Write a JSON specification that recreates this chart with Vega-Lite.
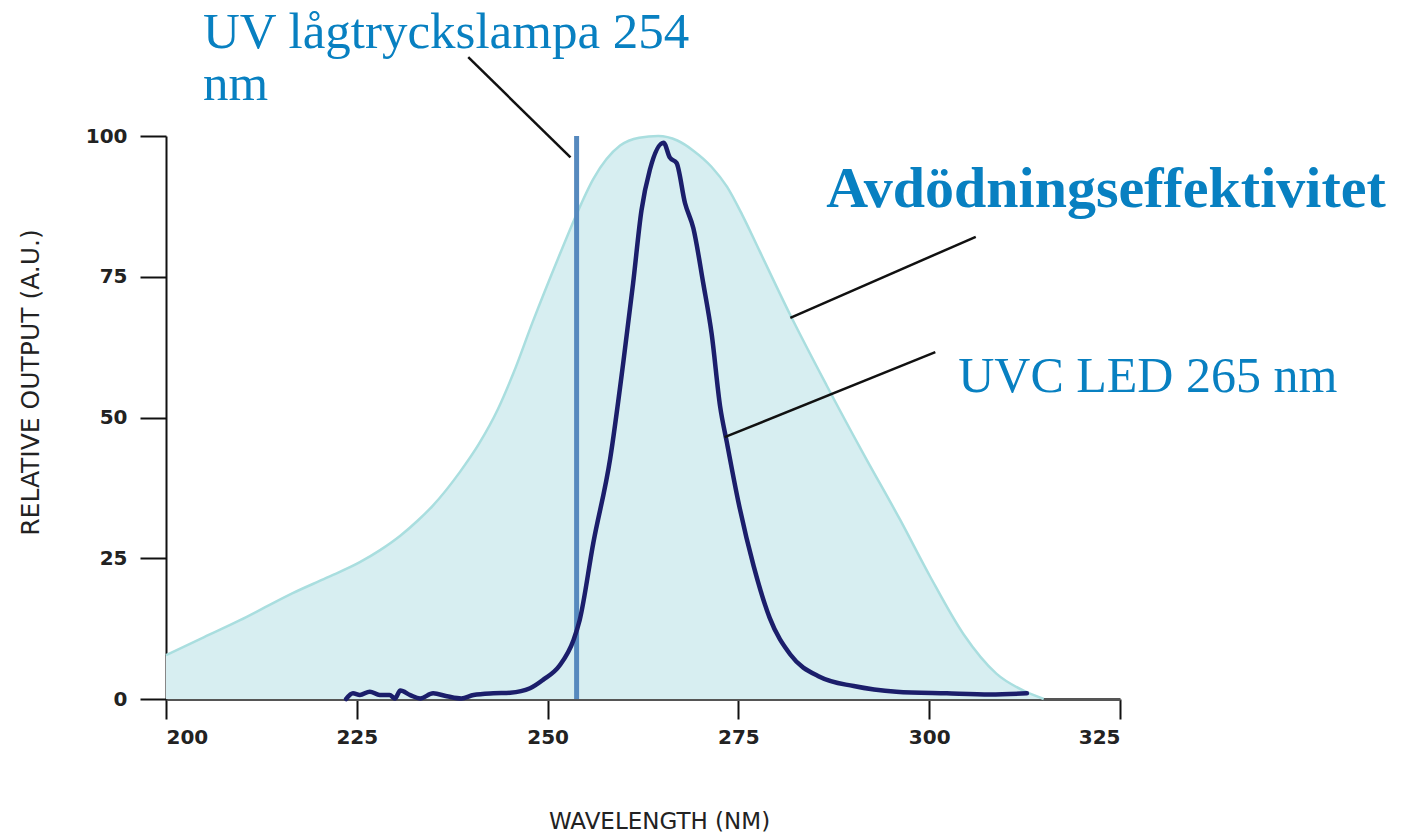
{
  "$schema": "https://vega.github.io/schema/vega-lite/v6.json",
  "width": 954,
  "height": 563,
  "autosize": {"type": "none"},
  "padding": {"left": 166, "top": 136, "right": 306, "bottom": 138},
  "background": "white",
  "config": {
    "view": {"stroke": null},
    "axis": {"grid": false, "zindex": 1}
  },
  "layer": [
    {
      "data": {"values": [
        {"nm": 200, "v": 7.8}, {"nm": 205, "v": 11.0}, {"nm": 209.7, "v": 14.0}, {"nm": 213, "v": 16.3},
        {"nm": 216.6, "v": 18.8}, {"nm": 221, "v": 21.5}, {"nm": 225.4, "v": 24.3}, {"nm": 228, "v": 26.4},
        {"nm": 230.7, "v": 29.0}, {"nm": 233, "v": 31.7}, {"nm": 235, "v": 34.4}, {"nm": 238.5, "v": 40.3},
        {"nm": 241, "v": 45.3}, {"nm": 243.5, "v": 51.5}, {"nm": 245.5, "v": 57.8}, {"nm": 248, "v": 66.8}, {"nm": 251.6, "v": 79.0},
        {"nm": 253.6, "v": 85.5}, {"nm": 256, "v": 92.4}, {"nm": 259.5, "v": 98.3}, {"nm": 262, "v": 99.7},
        {"nm": 264.5, "v": 100}, {"nm": 267, "v": 99.2}, {"nm": 269.1, "v": 97.4}, {"nm": 271.5, "v": 94.5},
        {"nm": 273.5, "v": 91.0}, {"nm": 275.5, "v": 86.0}, {"nm": 277.8, "v": 79.5}, {"nm": 281.8, "v": 68.2},
        {"nm": 286.6, "v": 55.6}, {"nm": 291.4, "v": 43.5}, {"nm": 296.2, "v": 31.8}, {"nm": 300.1, "v": 21.8},
        {"nm": 304.5, "v": 11.5}, {"nm": 308.8, "v": 4.5}, {"nm": 312.8, "v": 1.2}, {"nm": 315, "v": 0}
      ]},
      "layer": [
        {
          "mark": {"type": "area", "fill": "#d7eef1", "interpolate": "monotone"},
          "encoding": {
            "x": {"field": "nm", "type": "quantitative", "scale": {"domain": [200, 325], "nice": false, "zero": false},
              "axis": {"values": [200, 225, 250, 275, 300, 325], "tickSize": 20, "tickColor": "#111", "tickWidth": 2,
                "domainColor": "#555", "domainWidth": 3, "labelFont": "DejaVu Sans", "labelFontSize": 20,
                "labelFontWeight": "bold", "labelColor": "#222", "labelPadding": 8,
                "title": "WAVELENGTH (NM)", "titleFont": "DejaVu Sans", "titleFontSize": 23, "titleFontWeight": "normal",
                "titleColor": "#222", "titleX": 493, "titleY": 122, "titleBaseline": "middle", "titleAlign": "center"}},
            "y": {"field": "v", "type": "quantitative", "scale": {"domain": [0, 100], "nice": false},
              "axis": {"values": [0, 25, 50, 75, 100], "tickSize": 26, "tickColor": "#111", "tickWidth": 2,
                "domainColor": "#111", "domainWidth": 2, "labelFont": "DejaVu Sans", "labelFontSize": 20,
                "labelFontWeight": "bold", "labelColor": "#222", "labelPadding": 13,
                "title": "RELATIVE OUTPUT (A.U.)", "titleFont": "DejaVu Sans", "titleFontSize": 25, "titleFontWeight": "normal",
                "titleColor": "#222", "titleX": -136, "titleY": 246, "titleAngle": 270, "titleBaseline": "middle", "titleAlign": "center"}}
          }
        },
        {
          "mark": {"type": "line", "stroke": "#a9dedf", "strokeWidth": 2.5, "interpolate": "monotone"},
          "encoding": {
            "x": {"field": "nm", "type": "quantitative"},
            "y": {"field": "v", "type": "quantitative"}
          }
        }
      ]
    },
    {
      "data": {"values": [{"nm": 253.8, "v": 0, "v2": 100}]},
      "mark": {"type": "rule", "stroke": "#5689be", "strokeWidth": 5},
      "encoding": {
        "x": {"field": "nm", "type": "quantitative"},
        "y": {"field": "v", "type": "quantitative"},
        "y2": {"field": "v2"}
      }
    },
    {
      "data": {"values": [
        {"nm": 223.6, "v": 0}, {"nm": 224.5, "v": 1.0}, {"nm": 225.4, "v": 0.7}, {"nm": 226.7, "v": 1.3},
        {"nm": 228.0, "v": 0.7}, {"nm": 229.3, "v": 0.7}, {"nm": 230.0, "v": 0.1}, {"nm": 230.7, "v": 1.5},
        {"nm": 232.0, "v": 0.7}, {"nm": 233.3, "v": 0.1}, {"nm": 235.0, "v": 1.0}, {"nm": 236.8, "v": 0.5},
        {"nm": 238.7, "v": 0.1}, {"nm": 240.3, "v": 0.7}, {"nm": 242.9, "v": 1.0}, {"nm": 245.1, "v": 1.1},
        {"nm": 247.7, "v": 1.9}, {"nm": 249.4, "v": 3.4}, {"nm": 251.6, "v": 6.0}, {"nm": 253.4, "v": 10.5},
        {"nm": 254.2, "v": 14.0}, {"nm": 256.0, "v": 27.8}, {"nm": 258.2, "v": 42.7}, {"nm": 259.9, "v": 59.6},
        {"nm": 261.2, "v": 73.8}, {"nm": 262.3, "v": 86.8}, {"nm": 263.4, "v": 94.0}, {"nm": 265.2, "v": 98.8},
        {"nm": 266.0, "v": 96.2}, {"nm": 266.9, "v": 95.2}, {"nm": 268.0, "v": 88.1}, {"nm": 269.1, "v": 83.6},
        {"nm": 270.4, "v": 73.8}, {"nm": 271.5, "v": 64.8}, {"nm": 272.6, "v": 52.0}, {"nm": 273.5, "v": 45.5},
        {"nm": 275.0, "v": 35.0}, {"nm": 277.0, "v": 23.6}, {"nm": 279.1, "v": 14.4}, {"nm": 281.8, "v": 7.9},
        {"nm": 285.7, "v": 3.9}, {"nm": 290.1, "v": 2.3}, {"nm": 295.7, "v": 1.3}, {"nm": 302.3, "v": 1.0},
        {"nm": 308.0, "v": 0.8}, {"nm": 312.8, "v": 1.0}
      ]},
      "mark": {"type": "line", "stroke": "#1b1e6b", "strokeWidth": 4.5, "strokeJoin": "round", "strokeCap": "round", "interpolate": "monotone"},
      "encoding": {
        "x": {"field": "nm", "type": "quantitative"},
        "y": {"field": "v", "type": "quantitative"}
      }
    },
    {
      "data": {"values": [
        {"nm": 239.6, "v": 114.0, "nm2": 253.0, "v2": 96.2},
        {"nm": 281.8, "v": 67.7, "nm2": 306.1, "v2": 82.1},
        {"nm": 273.2, "v": 46.5, "nm2": 300.8, "v2": 61.6}
      ]},
      "mark": {"type": "rule", "stroke": "#111", "strokeWidth": 2.5},
      "encoding": {
        "x": {"field": "nm", "type": "quantitative"},
        "y": {"field": "v", "type": "quantitative"},
        "x2": {"field": "nm2"},
        "y2": {"field": "v2"}
      }
    },
    {
      "data": {"values": [
        {"nm": 204.85, "v": 115.6, "label": "UV lågtryckslampa 254"},
        {"nm": 204.85, "v": 106.4, "label": "nm"}
      ]},
      "mark": {"type": "text", "align": "left", "baseline": "alphabetic", "font": "Liberation Serif", "fontSize": 51, "fill": "#0880c1"},
      "encoding": {
        "x": {"field": "nm", "type": "quantitative"},
        "y": {"field": "v", "type": "quantitative"},
        "text": {"field": "label"}
      }
    },
    {
      "data": {"values": [
        {"nm": 303.8, "v": 54.5, "label": "UVC LED 265 nm"}
      ]},
      "mark": {"type": "text", "align": "left", "baseline": "alphabetic", "font": "Liberation Serif", "fontSize": 50, "fill": "#0880c1"},
      "encoding": {
        "x": {"field": "nm", "type": "quantitative"},
        "y": {"field": "v", "type": "quantitative"},
        "text": {"field": "label"}
      }
    },
    {
      "data": {"values": [
        {"nm": 286.5, "v": 87.4, "label": "Avdödningseffektivitet"}
      ]},
      "mark": {"type": "text", "align": "left", "baseline": "alphabetic", "font": "Liberation Serif", "fontSize": 58, "fontWeight": "bold", "fill": "#0880c1"},
      "encoding": {
        "x": {"field": "nm", "type": "quantitative"},
        "y": {"field": "v", "type": "quantitative"},
        "text": {"field": "label"}
      }
    }
  ]
}
